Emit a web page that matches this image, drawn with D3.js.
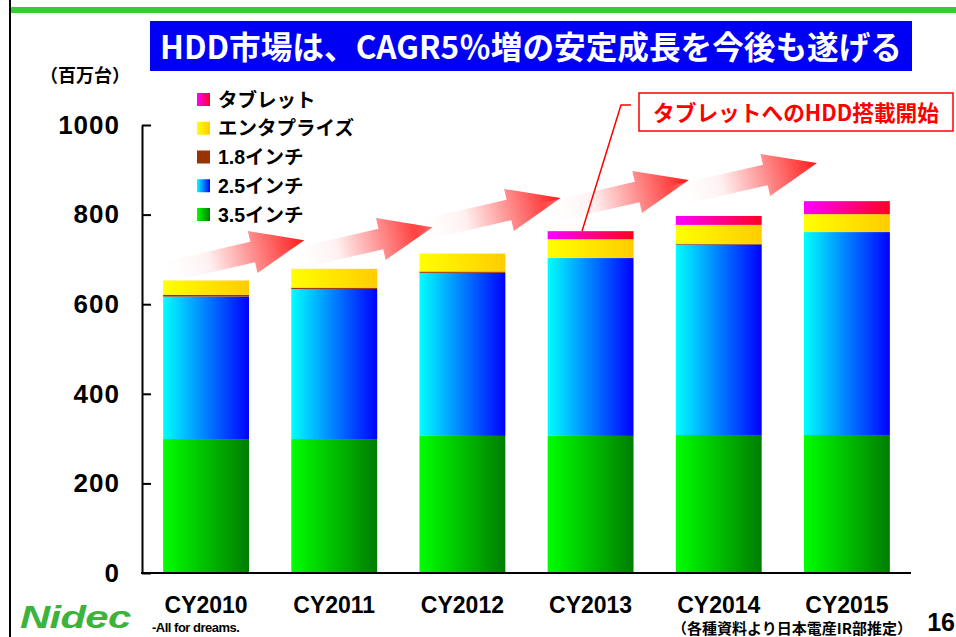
<!DOCTYPE html>
<html><head><meta charset="utf-8">
<script src="https://cdn.jsdelivr.net/npm/d3@7"></script>
<style>
html,body{margin:0;padding:0;background:#fff;}
svg{display:block;font-family:"Liberation Sans","Noto Sans CJK JP",Arial,sans-serif;}
</style></head>
<body>
<svg id="chart" width="956" height="637"></svg>
<script>
// ---- data ----
const categories = ["CY2010","CY2011","CY2012","CY2013","CY2014","CY2015"];
const inch35 = [299, 299, 306, 306, 308, 308];
const inch25 = [318, 335, 364, 397, 425, 453];
const inch18 = [4, 3, 3, 0, 2, 0];
const enterprise = [32, 42, 40, 42, 42, 40];
const tablet = [0, 0, 0, 18, 20, 29];
const seriesKeys = ["inch35","inch25","inch18","enterprise","tablet"];
const seriesNames = ["3.5インチ","2.5インチ","1.8インチ","エンタプライズ","タブレット"];
const yTicks = [0, 200, 400, 600, 800, 1000];
const arrowTipValues = [743, 772, 837, 877, 915];

const titleText = "HDD市場は、CAGR5％増の安定成長を今後も遂げる";
const unitText = "（百万台）";
const noteText = "タブレットへのHDD搭載開始";
const sourceText = "（各種資料より日本電産IR部推定）";
const pageNo = "16";

// ---- styles ----
const gradStops = {
  inch35: ["#00ff00", "#007d00"],
  inch25: ["#00ffff", "#0000ff"],
  inch18: ["#993300", "#993300"],
  enterprise: ["#ffff00", "#ffcc00"],
  tablet: ["#ff00ff", "#ff0022"]
};

const rows = categories.map((c, i) => ({
  cat: c, inch35: inch35[i], inch25: inch25[i], inch18: inch18[i],
  enterprise: enterprise[i], tablet: tablet[i]
}));

const svg = d3.select("#chart");
const defs = svg.append("defs");
seriesKeys.forEach(k => {
  const g = defs.append("linearGradient").attr("id", "g_" + k)
    .attr("x1", 0).attr("x2", 1).attr("y1", 0).attr("y2", 0);
  g.append("stop").attr("offset", "0%").attr("stop-color", gradStops[k][0]);
  g.append("stop").attr("offset", "100%").attr("stop-color", gradStops[k][1]);
});
const ag = defs.append("linearGradient").attr("id", "arrowGrad")
  .attr("x1", 0).attr("x2", 1).attr("y1", 0).attr("y2", 0);
ag.append("stop").attr("offset", "0%").attr("stop-color", "#ffffff").attr("stop-opacity", 0);
ag.append("stop").attr("offset", "35%").attr("stop-color", "#fff0f0").attr("stop-opacity", 1);
ag.append("stop").attr("offset", "100%").attr("stop-color", "#ff1a1a");

// frame decorations
svg.append("rect").attr("x", 9).attr("y", 7).attr("width", 947).attr("height", 6).attr("fill", "#33cc33");
svg.append("rect").attr("x", 9).attr("y", 0).attr("width", 2).attr("height", 637).attr("fill", "#000");

// title
svg.append("rect").attr("x", 150).attr("y", 21).attr("width", 762).attr("height", 50).attr("fill", "#0000f5");
svg.append("text").attr("x", 531).attr("y", 59)
  .attr("text-anchor", "middle")
  .attr("fill", "#fff").attr("font-weight", "bold").attr("font-size", 32)
  .attr("font-family", "'Noto Sans CJK JP','Liberation Sans',sans-serif")
  .attr("textLength", 742).attr("lengthAdjust", "spacingAndGlyphs")
  .text(titleText);

svg.append("text").attr("x", 40).attr("y", 82).attr("font-weight", "bold").attr("font-size", 18)
  .attr("font-family", "'Noto Sans CJK JP',sans-serif").attr("fill", "#000").text(unitText);

// scales
const x = d3.scaleBand().domain(categories).range([142, 911]).paddingInner(0.33).paddingOuter(0.165);
const y = d3.scaleLinear().domain([0, 1000]).range([573, 125]);

// arrows (decoration)
const ang = -13;
arrowTipValues.forEach((v, i) => {
  const tx = x(categories[i + 1]) + 13;
  const ty = y(v);
  const path = "M-150,-10.5 L-53,-10.5 L-53,-21.5 L0,0 L-53,21.5 L-53,10.5 L-150,10.5 Z";
  svg.append("path").attr("d", path)
    .attr("transform", `translate(${tx},${ty}) rotate(${ang})`)
    .attr("fill", "url(#arrowGrad)");
});

// stacked bars
const stack = d3.stack().keys(seriesKeys)(rows);
const gBars = svg.append("g");
stack.forEach(layer => {
  gBars.append("g").attr("fill", `url(#g_${layer.key})`)
    .selectAll("rect").data(layer).join("rect")
    .attr("x", d => x(d.data.cat))
    .attr("width", x.bandwidth())
    .attr("y", d => y(d[1]))
    .attr("height", d => Math.max(0, y(d[0]) - y(d[1])));
});

// y axis
const yAxis = d3.axisLeft(y).tickValues(yTicks).tickSizeInner(-9).tickSizeOuter(0).tickPadding(22)
  .tickFormat(d3.format("d"));
const gy = svg.append("g").attr("transform", "translate(142,0)").call(yAxis);
gy.select(".domain").attr("stroke", "#000").attr("stroke-width", 2);
gy.selectAll(".tick line").attr("stroke", "#000").attr("stroke-width", 2);
gy.selectAll(".tick text").attr("font-size", 26).attr("font-weight", "bold").attr("fill", "#000")
  .attr("font-family", "'Liberation Sans',Arial,sans-serif").attr("letter-spacing", 1);

// x axis baseline and labels
svg.append("line").attr("x1", 141).attr("x2", 911).attr("y1", y(0)).attr("y2", y(0))
  .attr("stroke", "#000").attr("stroke-width", 2);
svg.append("g").selectAll("text").data(categories).join("text")
  .attr("x", d => x(d) + x.bandwidth() / 2).attr("y", 613)
  .attr("text-anchor", "middle").attr("font-size", 23).attr("font-weight", "bold")
  .attr("font-family", "'Liberation Sans',Arial,sans-serif")
  .text(d => d);

// legend
const legendOrder = [4, 3, 2, 1, 0];
const lg = svg.append("g");
legendOrder.forEach((si, r) => {
  const cy = 99.5 + r * 28.75;
  lg.append("rect").attr("x", 197).attr("y", cy - 6.5).attr("width", 13).attr("height", 13)
    .attr("fill", `url(#g_${seriesKeys[si]})`);
  lg.append("text").attr("x", 218).attr("y", cy + 7).attr("font-size", 19.5).attr("font-weight", "bold")
    .attr("font-family", "'Liberation Sans','Noto Sans CJK JP',sans-serif")
    .text(seriesNames[si]);
});

// annotation
const ci = 3;
const tipX = x(categories[ci]) + x.bandwidth() * 0.4;
const tipY = y(inch35[ci] + inch25[ci] + inch18[ci] + enterprise[ci] + tablet[ci]);
svg.append("polyline").attr("points", `631,105 621,105 ${tipX},${tipY}`)
  .attr("fill", "none").attr("stroke", "#ff0000").attr("stroke-width", 1.5);
svg.append("rect").attr("x", 639).attr("y", 93).attr("width", 314).attr("height", 38)
  .attr("fill", "#fff").attr("stroke", "#ff0000").attr("stroke-width", 1.5);
svg.append("text").attr("x", 796).attr("y", 121).attr("text-anchor", "middle")
  .attr("font-size", 22).attr("font-weight", "bold").attr("fill", "#ff0000")
  .attr("font-family", "'Noto Sans CJK JP','Liberation Sans',sans-serif")
  .attr("textLength", 286).attr("lengthAdjust", "spacingAndGlyphs")
  .text(noteText);

// footer
svg.append("text").attr("x", 912).attr("y", 634).attr("text-anchor", "end")
  .attr("font-size", 14.5).attr("font-weight", "bold")
  .attr("font-family", "'Noto Sans CJK JP',sans-serif")
  .attr("textLength", 240).attr("lengthAdjust", "spacingAndGlyphs")
  .text(sourceText);
svg.append("text").attr("x", 955).attr("y", 631).attr("text-anchor", "end")
  .attr("font-size", 25).attr("font-weight", "bold")
  .attr("font-family", "'Liberation Sans',Arial,sans-serif").text(pageNo);

// logo
const logo = svg.append("g").attr("transform", "translate(20,628) scale(1.35,1)");
logo.append("text").attr("x", 0).attr("y", 0).attr("font-size", 31).attr("font-weight", "bold")
  .attr("font-style", "italic").attr("fill", "#3cb43c")
  .attr("font-family", "'Liberation Sans',Arial,sans-serif").attr("letter-spacing", -0.5).text("Nidec");
svg.append("text").attr("x", 152).attr("y", 632).attr("font-size", 13).attr("font-weight", "bold")
  .attr("font-family", "'Liberation Sans',Arial,sans-serif").attr("letter-spacing", -0.5)
  .text("-All for dreams.");
</script>
</body></html>
